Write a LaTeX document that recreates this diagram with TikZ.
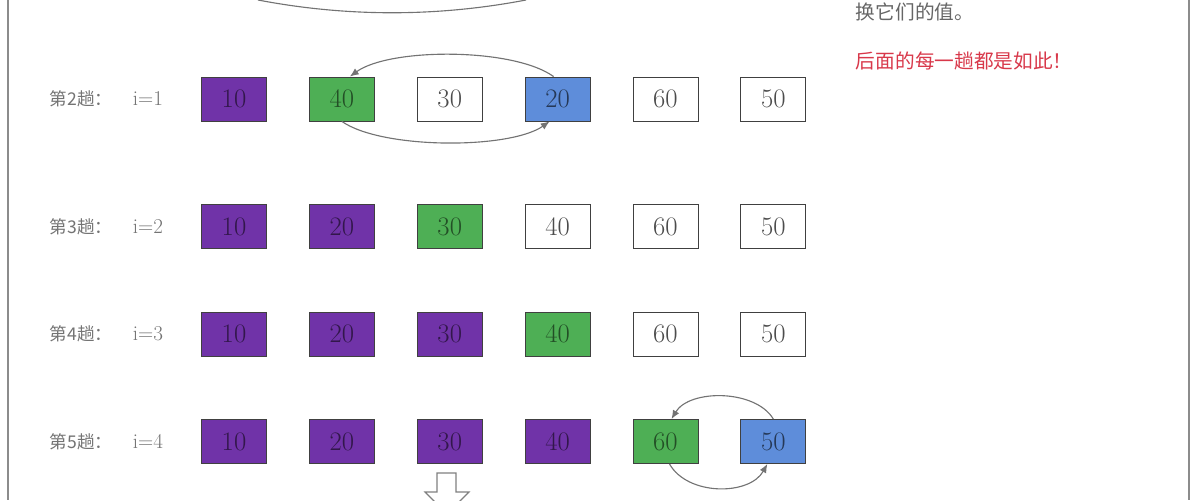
\documentclass[tikz,border=0pt]{standalone}
\usepackage{fontspec}
\newfontfamily\cjk{Noto Sans CJK SC}
\usetikzlibrary{positioning,arrows.meta}
\definecolor{sortpurple}{HTML}{7033A8}
\definecolor{sortgreen}{HTML}{4EAF55}
\definecolor{sortblue}{HTML}{5E8DDA}
\definecolor{sortred}{HTML}{D8384A}

\begin{document}
\begin{tikzpicture}[x=0.025cm,y=-0.025cm,node distance=1.05cm,
    cell/.style={draw=black!75,line width=0.6pt,minimum width=1.625cm,minimum height=1.1cm,
        inner sep=0pt,font=\fontsize{19}{22}\selectfont,text=black!70},
    done/.style={cell,fill=sortpurple,text=sortpurple!45!black},
    cur/.style={cell,fill=sortgreen,text=sortgreen!45!black},
    minv/.style={cell,fill=sortblue,text=sortblue!40!black},
    pass/.style={anchor=west,font=\cjk\fontsize{12.5}{15}\selectfont,text=black!55},
    idx/.style={anchor=west,font=\fontsize{15}{18}\selectfont,text=black!55},
    swap/.style={-{Latex[length=2.2mm,width=1.8mm]},draw=black!55,line width=0.8pt},
    frame/.style={draw=black!45,line width=1.2pt}]
    \useasboundingbox (0,0) rectangle (1200,500);
    \clip (0,0) rectangle (1200,500);
    %
    \draw[frame] (8,0) -- (8,500);
    \draw[frame] (1189,0) -- (1189,500);
    %
    \node[anchor=west,font=\cjk\fontsize{14}{17}\selectfont,text=black!60] (note1) at (851,12) {换它们的值。};
    \node[anchor=west,font=\cjk\fontsize{14}{17}\selectfont,text=sortred] (note2) at (851,61) {后面的每一趟都是如此！};
    %
    \coordinate (prevA) at (258,0);
    \coordinate (prevB) at (526,0);
    \draw[swap,-] (prevA) .. controls +(89,17) and +(-89,17) .. (prevB);
    %
    \node[pass] (p2) at (45,99)  {第2趟：};
    \node[idx]  (i2) at (128,99) {i=1};
    \node[done]               (r2a) at (234,99) {10};
    \node[cur,right=of r2a]   (r2b) {40};
    \node[cell,right=of r2b]  (r2c) {30};
    \node[minv,right=of r2c]  (r2d) {20};
    \node[cell,right=of r2d]  (r2e) {60};
    \node[cell,right=of r2e]  (r2f) {50};
    %
    \node[pass] (p3) at (45,226.5)  {第3趟：};
    \node[idx]  (i3) at (128,226.5) {i=2};
    \node[done]               (r3a) at (234,226.5) {10};
    \node[done,right=of r3a]  (r3b) {20};
    \node[cur,right=of r3b]   (r3c) {30};
    \node[cell,right=of r3c]  (r3d) {40};
    \node[cell,right=of r3d]  (r3e) {60};
    \node[cell,right=of r3e]  (r3f) {50};
    %
    \node[pass] (p4) at (45,334)  {第4趟：};
    \node[idx]  (i4) at (128,334) {i=3};
    \node[done]               (r4a) at (234,334) {10};
    \node[done,right=of r4a]  (r4b) {20};
    \node[done,right=of r4b]  (r4c) {30};
    \node[cur,right=of r4c]   (r4d) {40};
    \node[cell,right=of r4d]  (r4e) {60};
    \node[cell,right=of r4e]  (r4f) {50};
    %
    \node[pass] (p5) at (45,441.5)  {第5趟：};
    \node[idx]  (i5) at (128,441.5) {i=4};
    \node[done]               (r5a) at (234,441.5) {10};
    \node[done,right=of r5a]  (r5b) {20};
    \node[done,right=of r5b]  (r5c) {30};
    \node[done,right=of r5c]  (r5d) {40};
    \node[cur,right=of r5d]   (r5e) {60};
    \node[minv,right=of r5e]  (r5f) {50};
    %
    \draw[swap] ([xshift=-1mm]r2d.north) .. controls +(-40,-29) and +(40,-29) .. ([xshift=2mm]r2b.north);
    \draw[swap] (r2b.south) .. controls +(40,28) and +(-40,28) .. ([xshift=-2mm]r2d.south);
    \draw[swap] (r5f.north) .. controls +(-18,-30) and +(18,-30) .. ([xshift=1.5mm]r5e.north);
    \draw[swap] ([xshift=1mm]r5e.south) .. controls +(18,32) and +(-18,32) .. ([xshift=-1.5mm]r5f.south);
    %
    \draw[draw=black!50,fill=white,line width=0.8pt]
        (437,473) -- (456,473) -- (456,492) -- (469,492) -- (447,514)
        -- (425,492) -- (437,492) -- cycle;
\end{tikzpicture}
\end{document}
